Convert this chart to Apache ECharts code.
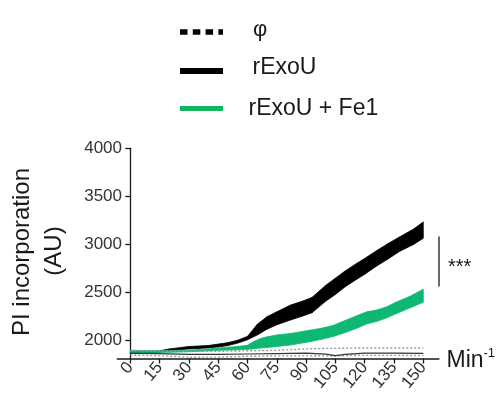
<!DOCTYPE html>
<html>
<head>
<meta charset="utf-8">
<script src="https://cdn.jsdelivr.net/npm/echarts@6/dist/echarts.min.js"></script>
<style>
html,body{margin:0;padding:0;background:#fff;}
#c{width:498px;height:394px;}
</style>
</head>
<body>
<div id="c"></div>
<script>
// Tick labels
const xTicks = [0, 15, 30, 45, 60, 75, 90, 105, 120, 135, 150];
const yTicks = [2000, 2500, 3000, 3500, 4000];

// rExoU band (upper / lower edges)
const rexouTime  = [0, 10, 15, 20, 30, 40, 45, 50, 55, 60, 65, 70, 75, 82, 88, 93, 100, 105, 110, 116, 120, 126, 132, 138, 145, 150];
const rexouUpper = [1878, 1880, 1895, 1915, 1940, 1950, 1965, 1980, 2005, 2045, 2170, 2250, 2300, 2370, 2410, 2450, 2575, 2650, 2725, 2805, 2855, 2935, 3010, 3080, 3160, 3235];
const rexouLower = [1868, 1870, 1882, 1898, 1915, 1925, 1935, 1950, 1975, 2010, 2060, 2120, 2165, 2215, 2255, 2290, 2410, 2480, 2560, 2640, 2690, 2775, 2850, 2930, 3000, 3065];

// rExoU + Fe1 band
const fe1Time  = [0, 10, 20, 30, 40, 45, 55, 60, 63, 67, 70, 75, 82, 92, 98, 104, 110, 116, 121, 126, 131, 136, 143, 150];
const fe1Upper = [1900, 1897, 1897, 1902, 1915, 1925, 1940, 1952, 1990, 2025, 2040, 2060, 2075, 2110, 2130, 2160, 2210, 2260, 2300, 2318, 2350, 2400, 2460, 2535];
const fe1Lower = [1875, 1877, 1880, 1885, 1895, 1900, 1905, 1910, 1915, 1925, 1930, 1940, 1955, 1990, 2015, 2045, 2085, 2130, 2175, 2200, 2235, 2280, 2340, 2400];

// φ (mean and dotted error lines)
const phiTime  = [0, 15, 30, 45, 60, 75, 90, 100, 105, 110, 120, 135, 150];
const phiMean  = [1868, 1866, 1858, 1858, 1862, 1866, 1870, 1860, 1845, 1858, 1872, 1872, 1868];
const phiUpper = [1898, 1895, 1890, 1890, 1895, 1900, 1915, 1920, 1920, 1922, 1925, 1925, 1925];
const phiLower = [1850, 1845, 1828, 1830, 1838, 1842, 1845, 1842, 1840, 1845, 1848, 1848, 1845];

const GREEN = '#0cb872';
const FONT = 'Liberation Sans, Arial, sans-serif';

function pairs(t, v) { return t.map((x, i) => [x, v[i]]); }

// band drawn as a chain of quads between consecutive samples
function bandSeries(name, t, up, lo, color) {
  const data = t.slice(0, -1).map((x, i) => [x, up[i], lo[i], t[i + 1], up[i + 1], lo[i + 1]]);
  return {
    type: 'custom', name: name, data: data,
    encode: {x: [0, 3], y: [1, 2, 4, 5]},
    renderItem: function (params, api) {
      const a = api.coord([api.value(0), api.value(1)]);
      const b = api.coord([api.value(3), api.value(4)]);
      const c = api.coord([api.value(3), api.value(5)]);
      const d = api.coord([api.value(0), api.value(2)]);
      return {type: 'polygon', shape: {points: [a, b, c, d]},
              style: {fill: color, stroke: color, lineWidth: 0.8}};
    }
  };
}

const chart = echarts.init(document.getElementById('c'), null, {renderer: 'canvas'});

const option = {
  animation: false,
  backgroundColor: '#fff',
  grid: {left: 117.4, right: 59.1, top: 148.3, bottom: 31.5, containLabel: false},
  xAxis: {
    type: 'value', min: -6.6, max: 158,
    splitLine: {show: false},
    axisLine: {onZero: false, lineStyle: {color: '#1a1a1a', width: 1.5}},
    axisTick: {show: true, length: 5, customValues: xTicks, lineStyle: {color: '#1a1a1a', width: 1.3}},
    axisLabel: {customValues: xTicks, rotate: 50, margin: 6, fontSize: 17, color: '#333', fontFamily: FONT,
                formatter: v => String(v)}
  },
  yAxis: {
    type: 'value', min: 1815, max: 4000,
    splitLine: {show: false},
    axisLine: {show: true, onZero: true, lineStyle: {color: '#1a1a1a', width: 1.3}},
    axisTick: {show: true, length: 5, customValues: yTicks, lineStyle: {color: '#1a1a1a', width: 1.3}},
    axisLabel: {customValues: yTicks, margin: -4.6, fontSize: 17, color: '#333', fontFamily: FONT,
                formatter: v => String(v)}
  },
  series: [
    {type: 'line', name: 'φ upper', data: pairs(phiTime, phiUpper), showSymbol: false,
     lineStyle: {color: '#9a9a9a', width: 1.4, type: [2, 2]}},
    {type: 'line', name: 'φ lower', data: pairs(phiTime, phiLower), showSymbol: false,
     lineStyle: {color: '#9a9a9a', width: 1.4, type: [2, 2]}},
    {type: 'line', name: 'φ', data: pairs(phiTime, phiMean), showSymbol: false,
     lineStyle: {color: '#333', width: 1.2}},
    bandSeries('rExoU', rexouTime, rexouUpper, rexouLower, '#000'),
    bandSeries('rExoU + Fe1', fe1Time, fe1Upper, fe1Lower, GREEN)
  ],
  graphic: [
    // legend
    {type: 'line', shape: {x1: 180, y1: 32, x2: 223, y2: 32}, style: {stroke: '#000', lineWidth: 5.5, lineDash: [7.5, 5.3]}},
    {type: 'line', shape: {x1: 180, y1: 71, x2: 223, y2: 71}, style: {stroke: '#000', lineWidth: 6}},
    {type: 'line', shape: {x1: 180, y1: 108.5, x2: 223, y2: 108.5}, style: {stroke: '#14b35e', lineWidth: 5}},
    {type: 'text', x: 253, y: 30, style: {text: 'φ', fontSize: 22, fontFamily: FONT, fill: '#1a1a1a', textVerticalAlign: 'middle'}},
    {type: 'text', x: 252.5, y: 68, style: {text: 'rExoU', fontSize: 23, fontFamily: FONT, fill: '#1a1a1a', textVerticalAlign: 'middle'}},
    {type: 'text', x: 248.5, y: 109, style: {text: 'rExoU + Fe1', fontSize: 23, fontFamily: FONT, fill: '#1a1a1a', textVerticalAlign: 'middle'}},
    // y axis title
    {type: 'text', x: 22, y: 252, rotation: Math.PI / 2,
     style: {text: 'PI incorporation', fontSize: 24, fontFamily: FONT, fill: '#1a1a1a', textAlign: 'center', textVerticalAlign: 'middle'}},
    {type: 'text', x: 54, y: 251, rotation: Math.PI / 2,
     style: {text: '(AU)', fontSize: 24, fontFamily: FONT, fill: '#1a1a1a', textAlign: 'center', textVerticalAlign: 'middle'}},
    // significance
    {type: 'line', shape: {x1: 439, y1: 236.5, x2: 439, y2: 286.5}, style: {stroke: '#1a1a1a', lineWidth: 1.3}},
    {type: 'text', x: 448, y: 267, style: {text: '***', fontSize: 20, fontFamily: FONT, fill: '#1a1a1a', textVerticalAlign: 'middle'}},
    // x unit
    {type: 'text', x: 446.5, y: 361, style: {text: 'Min', fontSize: 23, fontFamily: FONT, fill: '#1a1a1a', textVerticalAlign: 'middle'}},
    {type: 'text', x: 483.5, y: 353, style: {text: '-1', fontSize: 13, fontFamily: FONT, fill: '#1a1a1a', textVerticalAlign: 'middle'}}
  ]
};
chart.setOption(option);
</script>
</body>
</html>
